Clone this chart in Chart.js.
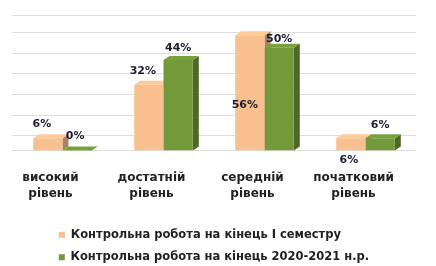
<!DOCTYPE html>
<html><head><meta charset="utf-8">
<script src="https://cdn.jsdelivr.net/npm/chart.js@4/dist/chart.umd.min.js"></script>
<style>html,body{margin:0;padding:0;background:#fff;overflow:hidden}body{height:266px}#w{width:436px;height:273px}</style>
</head><body><div id="w"><canvas id="c"></canvas></div>
<script>
const categories = [["високий","рівень"],["достатній","рівень"],["середній","рівень"],["початковий","рівень"]];
const seriesNames = ["Контрольна робота на кінець І семестру","Контрольна робота на кінець 2020-2021 н.р."];
const semester1 = [6, 32, 56, 6];
const yearEnd = [0, 44, 50, 6];
const yMax = 65.9, yStep = 10;
const wallOffset = 7.3; // back-wall (3D depth) shift of the grid, in % units

function shade(hex, f){const n=parseInt(hex.slice(1),16);let r=n>>16,g=(n>>8)&255,b=n&255;
 r=Math.round(Math.min(255,r*f));g=Math.round(Math.min(255,g*f));b=Math.round(Math.min(255,b*f));return `rgb(${r},${g},${b})`;}
const cols = ["#F9C08F","#72993A"];
const DX=6, DY=4;
const FONT = "'DejaVu Sans', 'Liberation Sans', Arial, sans-serif";

const bar3d = {
 id:'bar3d',
 beforeDatasetsDraw(chart){
   const ctx=chart.ctx;
   chart.data.datasets.forEach((ds,di)=>{
     const meta=chart.getDatasetMeta(di);
     meta.data.forEach(el=>{
       const l=el.x-el.width/2, r=el.x+el.width/2, t=el.y, b=el.base;
       ctx.save();
       ctx.fillStyle=shade(cols[di],0.68);
       ctx.beginPath();ctx.moveTo(r,t);ctx.lineTo(r+DX,t-DY);ctx.lineTo(r+DX,b-DY);ctx.lineTo(r,b);ctx.closePath();ctx.fill();
       ctx.fillStyle=shade(cols[di],1.05);
       ctx.beginPath();ctx.moveTo(l,t);ctx.lineTo(l+DX,t-DY);ctx.lineTo(r+DX,t-DY);ctx.lineTo(r,t);ctx.closePath();ctx.fill();
       ctx.restore();
     });
   });
 },
 afterDatasetsDraw(chart){
   const ctx=chart.ctx;
   ctx.save();
   ctx.font="bold 11px "+FONT;
   ctx.fillStyle="#1c1c34";
   ctx.textAlign="center";
   ctx.textBaseline="middle";
   chart.data.datasets.forEach((ds,di)=>{
     const meta=chart.getDatasetMeta(di);
     meta.data.forEach((el,i)=>{
       const v=ds.data[i]; let x=el.x, y=el.y-DY-8;
       if(di===0){ x=el.x-6; y=el.y-DY-10; }
       if(di===0 && i===2){ y=(el.y+el.base)/2+12; x=el.x-5; }
       if(di===0 && i===3){ y=el.base+10; x=el.x-2; }
       if(di===1 && i===0){ y=el.y-14; x=el.x-2; }
       if(di===1 && i===2){ x=el.x; y=el.y-DY-5; }
       if(di===1 && i===3){ x=el.x; y=el.y-DY-9; }
       ctx.fillText(v+"%",x,y);
     });
   });
   ctx.restore();
 }
};

new Chart(document.getElementById('c'),{
 type:'bar',
 data:{labels:categories,datasets:[
  {label:seriesNames[0],data:semester1,backgroundColor:cols[0],categoryPercentage:0.58,barPercentage:1.0},
  {label:seriesNames[1],data:yearEnd,backgroundColor:cols[1],categoryPercentage:0.58,barPercentage:1.0}
 ]},
 options:{
  responsive:true,maintainAspectRatio:false,animation:false,
  layout:{padding:{left:12,right:20,top:15,bottom:0}},
  plugins:{
   legend:{position:'bottom',labels:{boxWidth:6,boxHeight:6,padding:11,color:'#222',
     font:{family:FONT,size:11.5,weight:'bold'},
     generateLabels(chart){
       const items=Chart.defaults.plugins.legend.labels.generateLabels(chart);
       if(items[0]) items[0].text=items[0].text+'       ';
       return items;
     }}},
   tooltip:{enabled:false}
  },
  scales:{
   x:{grid:{display:false,drawTicks:false,tickLength:0},border:{display:false},
      afterFit(scale){ scale.height -= 3; },
      ticks:{color:'#222',padding:19,labelOffset:-12,font:{family:FONT,size:12,weight:'bold',lineHeight:1.35}}},
   y:{min:0,max:yMax,ticks:{display:false,stepSize:yStep},border:{display:false},
      grid:{display:false,drawTicks:false}},
   wall:{position:'left',min:-wallOffset,max:yMax-wallOffset,ticks:{display:false,stepSize:yStep},border:{display:false},
      grid:{color:'#dedede',drawTicks:false}}
  }
 },
 plugins:[bar3d]
});
</script></body></html>
